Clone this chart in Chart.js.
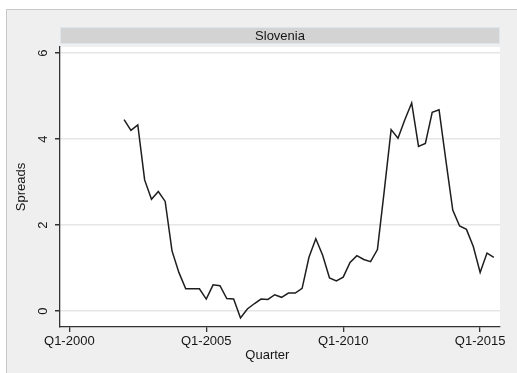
<!DOCTYPE html>
<html>
<head>
<meta charset="utf-8">
<script src="https://cdn.jsdelivr.net/npm/chart.js@4/dist/chart.umd.min.js"></script>
<style>
  html, body { margin: 0; padding: 0; background: #ffffff; }
  canvas { display: block; }
</style>
</head>
<body>
<canvas id="chart" width="517" height="373"></canvas>
<script>
// Sovereign spread, Slovenia, quarterly from Q1-2002 to Q3-2015
const panelTitle = 'Slovenia';
const firstQuarter = 8; // quarters counted from Q1-2000
const spreads = [
  4.45, 4.20, 4.33, 3.05, 2.60, 2.78, 2.55, 1.40, 0.90, 0.52,
  0.52, 0.52, 0.28, 0.61, 0.59, 0.29, 0.28, -0.16, 0.05, 0.17,
  0.28, 0.27, 0.38, 0.32, 0.42, 0.42, 0.53, 1.25, 1.68, 1.30,
  0.77, 0.70, 0.79, 1.13, 1.29, 1.20, 1.15, 1.43, 2.80, 4.22,
  4.02, 4.45, 4.84, 3.83, 3.90, 4.62, 4.68, 3.50, 2.35, 1.98,
  1.90, 1.50, 0.90, 1.35, 1.25
];
const quarters = spreads.map((_, k) => {
  const q = firstQuarter + k;
  return 'Q' + (q % 4 + 1) + '-' + (2000 + Math.floor(q / 4));
});
const xTickValues = [0, 20, 40, 60];
const xTickLabels = ['Q1-2000', 'Q1-2005', 'Q1-2010', 'Q1-2015'];
const yTickValues = [0, 2, 4, 6];

const points = spreads.map((v, k) => ({ x: firstQuarter + k, y: v, label: quarters[k] }));

const textFont = { family: 'Arial, "Liberation Sans", sans-serif', size: 13 };
const textColor = '#151515';

// Grey graph region, white plot region and the panel header strip
const backdrop = {
  id: 'backdrop',
  beforeDraw(chart) {
    const { ctx, chartArea: a, width, height } = chart;
    ctx.save();
    ctx.fillStyle = '#ffffff';
    ctx.fillRect(0, 0, width, height);
    ctx.fillStyle = '#efefef';
    ctx.fillRect(6, 9, width - 6, height - 9);
    ctx.strokeStyle = '#c8c8c8';
    ctx.lineWidth = 1;
    ctx.beginPath();
    ctx.moveTo(6.5, height);
    ctx.lineTo(6.5, 9.5);
    ctx.lineTo(width, 9.5);
    ctx.stroke();
    ctx.fillStyle = '#ffffff';
    ctx.fillRect(a.left, a.top, a.right - a.left, a.bottom - a.top);
    // header strip
    ctx.fillStyle = '#d3d3d3';
    ctx.fillRect(a.left, 27, a.right - a.left, 17);
    ctx.strokeStyle = '#dce6ec';
    ctx.strokeRect(a.left + 0.5, 27.5, a.right - a.left - 1, 16);
    ctx.fillStyle = textColor;
    ctx.font = '13px Arial, "Liberation Sans", sans-serif';
    ctx.textAlign = 'center';
    ctx.textBaseline = 'middle';
    ctx.fillText(panelTitle, (a.left + a.right) / 2, 36);
    ctx.restore();
  }
};

new Chart(document.getElementById('chart'), {
  type: 'line',
  data: {
    datasets: [{
      data: points,
      borderColor: '#1e1e1e',
      borderWidth: 1.5,
      pointRadius: 0,
      tension: 0,
      fill: false
    }]
  },
  options: {
    responsive: false,
    animation: false,
    devicePixelRatio: 1,
    layout: { padding: { top: 47, right: 17, left: 0, bottom: 0 } },
    plugins: { legend: { display: false }, tooltip: { enabled: false } },
    scales: {
      x: {
        type: 'linear',
        min: -1.36,
        max: 62.9,
        afterBuildTicks: s => { s.ticks = xTickValues.map(v => ({ value: v })); },
        afterFit: s => { s.height = 46; },
        grid: { drawOnChartArea: false, tickLength: 5, tickColor: '#333333', lineWidth: 1.3 },
        border: { color: '#333333', width: 1.3 },
        ticks: {
          autoSkip: false, maxRotation: 0, padding: 2,
          font: textFont, color: textColor,
          callback: (v, i) => xTickLabels[i]
        },
        title: {
          display: true, text: 'Quarter' + '       ',
          font: textFont, color: textColor,
          padding: { top: 0, bottom: 10 }
        }
      },
      y: {
        min: -0.37,
        max: 6.14,
        afterBuildTicks: s => { s.ticks = yTickValues.map(v => ({ value: v })); },
        afterFit: s => { s.width = 60; },
        grid: { color: '#e6e6e6', lineWidth: 1.5, tickLength: 5, tickColor: '#333333' },
        border: { color: '#333333', width: 1.3 },
        ticks: {
          minRotation: 90, maxRotation: 90, crossAlign: 'center', padding: 8,
          font: textFont, color: textColor
        },
        title: {
          display: true, text: 'Spreads',
          font: textFont, color: textColor,
          padding: { top: 14, bottom: 0 }
        }
      }
    }
  },
  plugins: [backdrop]
});
</script>
</body>
</html>
